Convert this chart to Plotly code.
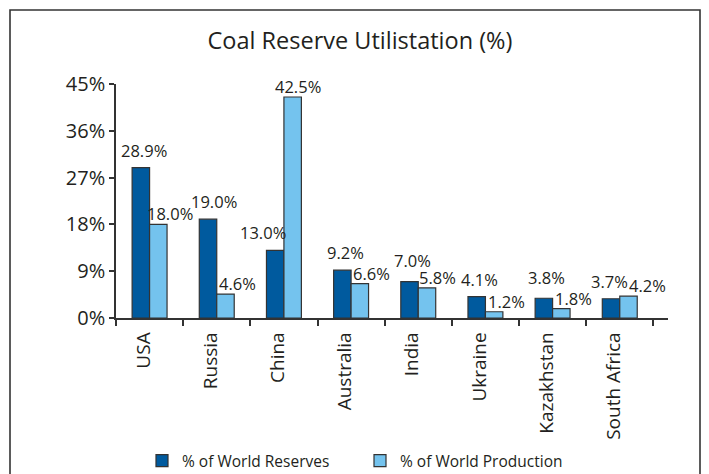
import plotly.graph_objects as go

countries = ["USA", "Russia", "China", "Australia", "India", "Ukraine", "Kazakhstan", "South Africa"]
reserves = [28.9, 19.0, 13.0, 9.2, 7.0, 4.1, 3.8, 3.7]
production = [18.0, 4.6, 42.5, 6.6, 5.8, 1.2, 1.8, 4.2]
y_ticks = [0, 9, 18, 27, 36, 45]
y_tick_text = ["0%", "9%", "18%", "27%", "36%", "45%"]

W, H = 709, 474
ML, MR, MT, MB = 116, 41, 84, 156
FONT = "'Open Sans', sans-serif"
INK = "#231f20"
DARK = "#005a9e"
LIGHT = "#74c3ee"
EDGE = "#333333"
BARGAP = 0.48
HALF = (1 - BARGAP) / 4          # offset of each bar centre from the category centre

# label placement (px): per-series offsets plus a few individual nudges
label_xshift = {"reserves": 3, "production": 12}
label_yshift = {"reserves": 4, "production": -3}
label_nudge = {("reserves", "China"): -15, ("production", "China"): -7,
               ("reserves", "Russia"): 3, ("production", "India"): -1,
               ("reserves", "South Africa"): -5, ("production", "South Africa"): 7}
label_lift = {("reserves", "India"): 4, ("reserves", "Kazakhstan"): 3}

fig = go.Figure()
fig.add_trace(go.Bar(name="% of World Reserves", x=countries, y=reserves,
                     marker=dict(color=DARK, line=dict(color=EDGE, width=1.2))))
fig.add_trace(go.Bar(name="% of World Production", x=countries, y=production,
                     marker=dict(color=LIGHT, line=dict(color=EDGE, width=1.2))))

for key, vals, side in (("reserves", reserves, -1), ("production", production, 1)):
    for i, (c, v) in enumerate(zip(countries, vals)):
        fig.add_annotation(
            x=i + side * HALF, y=v, xref="x", yref="y",
            text=f"{v:.1f}%", showarrow=False,
            xanchor="center", yanchor="bottom",
            yshift=label_yshift[key] + label_lift.get((key, c), 0),
            xshift=label_xshift[key] + label_nudge.get((key, c), 0),
            font=dict(size=16.5, color=INK, family=FONT),
        )

pw = W - ML - MR
ph = H - MT - MB
# outer frame around the whole chart
fig.add_shape(type="rect", xref="paper", yref="paper",
              x0=(10 - ML) / pw, x1=(700 - ML) / pw,
              y0=(H - 490 - MB) / ph, y1=(H - 10 - MB) / ph,
              line=dict(color=EDGE, width=1.6), fillcolor="rgba(0,0,0,0)")

fig.update_layout(
    width=W, height=H,
    margin=dict(l=ML, r=MR, t=MT, b=MB, autoexpand=False),
    paper_bgcolor="white", plot_bgcolor="white",
    barmode="group", bargap=BARGAP, bargroupgap=0,
    font=dict(family=FONT, color=INK),
    title=dict(text="Coal Reserve Utilistation (%)", x=(360 - ML) / pw, xref="paper",
               xanchor="center", y=1 - 41 / H, yanchor="middle",
               font=dict(size=23.5, color=INK, family=FONT)),
    showlegend=True,
    legend=dict(orientation="h", x=(142 - ML) / pw, xanchor="left",
                y=-(461 - (H - MB)) / ph, yanchor="middle",
                font=dict(size=15.5, color=INK, family=FONT),
                traceorder="normal", entrywidth=173),
    xaxis=dict(showline=True, linecolor=EDGE, linewidth=1.5,
               ticks="outside", tickson="boundaries", ticklen=6,
               tickcolor=EDGE, tickwidth=1.5, tickangle=-90,
               ticklabelstandoff=5, ticklabelshift=-6,
               tickfont=dict(size=19, color=INK, family=FONT),
               showgrid=False, automargin=False),
    yaxis=dict(range=[0, 45], tickvals=y_ticks, ticktext=y_tick_text,
               showline=True, linecolor=EDGE, linewidth=1.5,
               ticks="outside", ticklen=5, tickcolor=EDGE, tickwidth=1.5,
               tickfont=dict(size=20, color=INK, family=FONT),
               showgrid=False, zeroline=False, automargin=False),
)

fig.write_html("out.html")
